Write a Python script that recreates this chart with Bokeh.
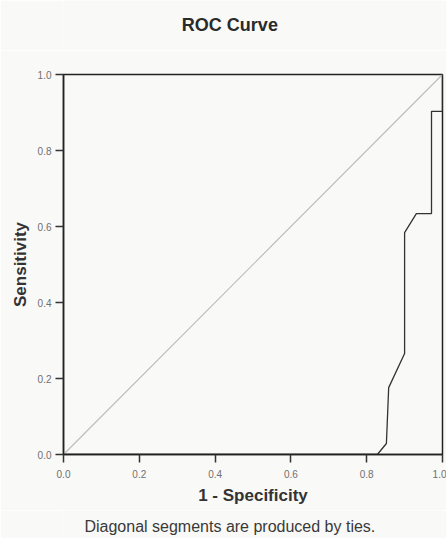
from bokeh.plotting import figure
from bokeh.models import Range1d, FixedTicker, PrintfTickFormatter
from bokeh.layouts import column
from bokeh.core.properties import value
from bokeh.embed import file_html
from bokeh.resources import INLINE

# ROC curve data (1 - specificity, sensitivity)
fpr = [0.0, 0.828, 0.852, 0.858, 0.900, 0.900, 0.931, 0.971, 0.971, 1.0, 1.0]
tpr = [0.0, 0.0, 0.029, 0.176, 0.266, 0.584, 0.634, 0.634, 0.903, 0.903, 1.0]

# Reference diagonal
diag_x = [0.0, 1.0]
diag_y = [0.0, 1.0]

tick_values = [0.0, 0.2, 0.4, 0.6, 0.8, 1.0]

title_text = "ROC Curve"
x_label = "1 - Specificity"
y_label = "Sensitivity"
footnote = "Diagonal segments are produced by ties."

FONT = "Liberation Sans"
BG = "#f9f9f7"
W = 446
LEFT, RIGHT = 63, 4          # frame borders shared by all stacked figures
TEXT_X = 0.439               # horizontal centre of title / footnote, in frame units


def text_strip(height, text, size, style, color, center_y):
    """A strip figure (frame aligned with the main plot) holding one centred text."""
    f = figure(width=W, height=height, output_backend="svg", toolbar_location=None,
               x_range=Range1d(0, 1), y_range=Range1d(height, 0),
               x_axis_location=None, y_axis_location=None,
               min_border_left=LEFT, min_border_right=RIGHT,
               min_border_top=0, min_border_bottom=0)
    f.background_fill_color = BG
    f.border_fill_color = BG
    f.outline_line_color = None
    f.xgrid.grid_line_color = None
    f.ygrid.grid_line_color = None
    f.text(x=[TEXT_X], y=[center_y], text=[text], text_font=value(FONT),
           text_font_size=size, text_font_style=style, text_color=color,
           text_align="center", text_baseline="middle")
    return f


top = text_strip(50, title_text, "18px", "bold", "#2a2a2a", 24)
bottom = text_strip(28, footnote, "16px", "normal", "#3a3a3a", 16)

p = figure(width=W, height=460, output_backend="svg", toolbar_location=None,
           x_range=Range1d(0, 1), y_range=Range1d(0, 1),
           min_border_left=LEFT, min_border_right=RIGHT, min_border_top=24, min_border_bottom=56)
p.background_fill_color = BG
p.border_fill_color = BG
p.outline_line_color = "#222222"
p.outline_line_width = 1.5
p.xgrid.grid_line_color = None
p.ygrid.grid_line_color = None

for ax in (p.xaxis[0], p.yaxis[0]):
    ax.ticker = FixedTicker(ticks=tick_values)
    ax.formatter = PrintfTickFormatter(format="%.1f")
    ax.major_tick_out = 8
    ax.major_tick_in = 0
    ax.minor_tick_out = 0
    ax.minor_tick_in = 0
    ax.axis_line_color = "#222222"
    ax.axis_line_width = 1.5
    ax.major_tick_line_color = "#333333"
    ax.major_tick_line_width = 1.5
    ax.major_label_text_font = FONT
    ax.major_label_text_font_size = "10px"
    ax.major_label_text_color = "#707070"
    ax.axis_label_text_font = FONT
    ax.axis_label_text_font_size = "17px"
    ax.axis_label_text_font_style = "bold"
    ax.axis_label_text_color = "#333333"

p.xaxis[0].axis_label = x_label
p.xaxis[0].major_label_standoff = 7
p.xaxis[0].axis_label_standoff = 5
p.yaxis[0].axis_label = y_label
p.yaxis[0].major_label_standoff = 4
p.yaxis[0].axis_label_standoff = 5

p.line(diag_x, diag_y, line_color="#bdbdbd", line_width=1.2)
p.line(fpr, tpr, line_color="#333333", line_width=1.3)

layout = column(top, p, bottom, spacing=0)

open("out.html", "w").write(file_html(layout, INLINE))
